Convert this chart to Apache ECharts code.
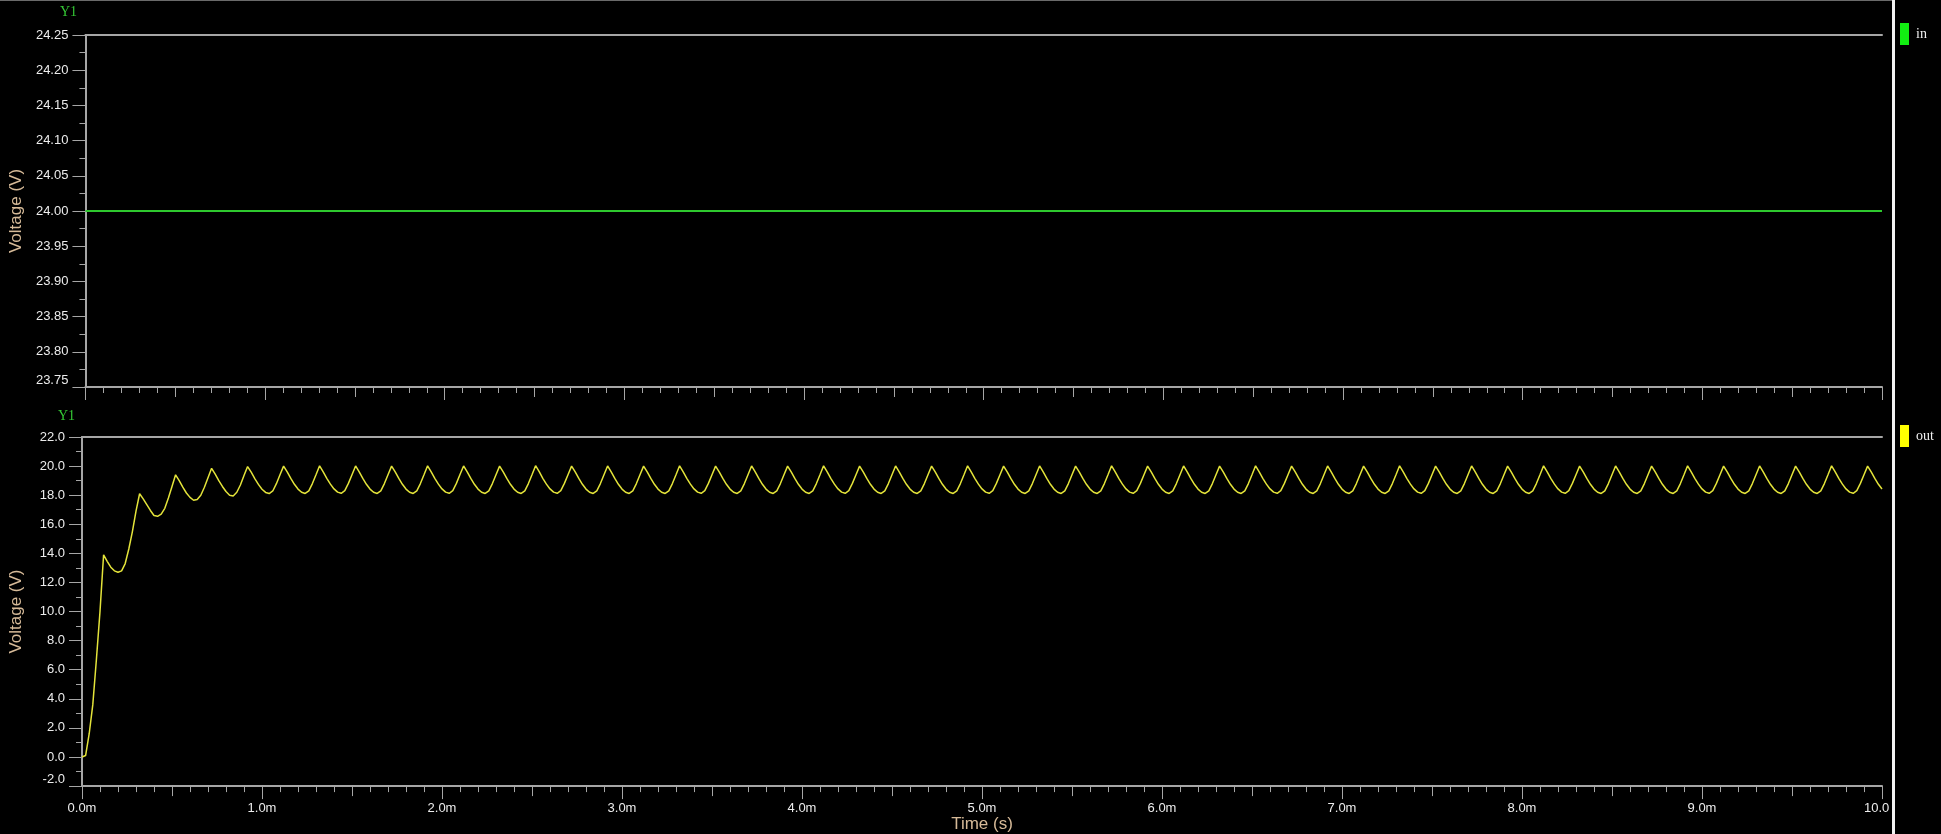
<!DOCTYPE html>
<html>
<head>
<meta charset="utf-8">
<script src="https://cdn.jsdelivr.net/npm/echarts@6/dist/echarts.min.js"></script>
<style>
html,body{margin:0;padding:0;background:#000;}
#c{width:1941px;height:834px;}
</style>
</head>
<body>
<div id="c"></div>
<script>
// ---------------- data ----------------
const timeRangeMs = [0, 10];
const timeTickMs = 1;
const inYRange = [23.75, 24.25];
const inYTick = 0.05;
const outYRange = [-2, 22];
const outYTick = 2;

// "in" trace: constant 24 V
const inTimeMs = [0, 2.5, 5, 7.5, 10];
const inVoltage = [24.0, 24.0, 24.0, 24.0, 24.0];

// "out" trace: sampled every 0.02 ms from 0.00 to 10.00 ms (501 samples)
const outStepMs = 0.02;
const outVoltage = [
  // 0.00 .. 0.90 ms : start-up transient
  0.00, 0.10, 1.60, 3.60, 6.70, 10.00,
  13.90, 13.45, 13.05, 12.80, 12.70, 12.80, 13.30, 14.30, 15.50, 16.90,
  18.10, 17.75, 17.35, 16.95, 16.60, 16.55, 16.70, 17.10, 17.80, 18.60,
  19.40, 19.00, 18.55, 18.15, 17.85, 17.65, 17.70, 18.00, 18.55, 19.20,
  19.85, 19.45, 19.00, 18.60, 18.25, 18.00, 17.95, 18.20, 18.70, 19.35,
  // ripple, one row per 0.2 ms period, rows start at peaks 0.92, 1.12, ... 9.72 ms
  19.97, 19.58, 19.14, 18.74, 18.41, 18.19, 18.11, 18.29, 18.79, 19.40, // 0.92
  20.00, 19.60, 19.15, 18.75, 18.42, 18.20, 18.12, 18.30, 18.80, 19.40, // 1.12
  20.02, 19.61, 19.16, 18.76, 18.43, 18.21, 18.13, 18.31, 18.81, 19.41, // 1.32
  20.01, 19.60, 19.15, 18.75, 18.42, 18.20, 18.12, 18.30, 18.80, 19.40, // 1.52
  20.00, 19.60, 19.15, 18.75, 18.42, 18.20, 18.12, 18.30, 18.80, 19.40, // 1.72
  20.02, 19.61, 19.16, 18.76, 18.43, 18.21, 18.13, 18.31, 18.81, 19.42, // 1.92
  20.01, 19.60, 19.15, 18.75, 18.42, 18.20, 18.12, 18.30, 18.80, 19.40, // 2.12
  20.00, 19.60, 19.15, 18.75, 18.42, 18.20, 18.12, 18.30, 18.80, 19.40, // 2.32
  20.03, 19.62, 19.16, 18.76, 18.43, 18.21, 18.13, 18.31, 18.81, 19.41, // 2.52
  20.00, 19.60, 19.15, 18.75, 18.42, 18.20, 18.12, 18.30, 18.80, 19.40, // 2.72
  20.01, 19.60, 19.15, 18.75, 18.42, 18.20, 18.12, 18.30, 18.80, 19.40, // 2.92
  20.00, 19.60, 19.15, 18.75, 18.42, 18.20, 18.12, 18.30, 18.80, 19.40, // 3.12
  20.02, 19.61, 19.16, 18.76, 18.43, 18.21, 18.13, 18.31, 18.81, 19.41, // 3.32
  20.00, 19.60, 19.15, 18.75, 18.42, 18.20, 18.12, 18.30, 18.80, 19.40, // 3.52
  20.01, 19.60, 19.15, 18.75, 18.42, 18.20, 18.12, 18.30, 18.80, 19.40, // 3.72
  20.00, 19.60, 19.15, 18.75, 18.42, 18.20, 18.12, 18.30, 18.80, 19.40, // 3.92
  20.02, 19.61, 19.16, 18.76, 18.43, 18.21, 18.13, 18.31, 18.81, 19.41, // 4.12
  20.00, 19.60, 19.15, 18.75, 18.42, 18.20, 18.12, 18.30, 18.80, 19.40, // 4.32
  20.01, 19.60, 19.15, 18.75, 18.42, 18.20, 18.12, 18.30, 18.80, 19.40, // 4.52
  20.00, 19.60, 19.15, 18.75, 18.42, 18.20, 18.12, 18.30, 18.80, 19.40, // 4.72
  20.02, 19.61, 19.16, 18.76, 18.43, 18.21, 18.13, 18.31, 18.81, 19.41, // 4.92
  20.00, 19.60, 19.15, 18.75, 18.42, 18.20, 18.12, 18.30, 18.80, 19.40, // 5.12
  20.01, 19.60, 19.15, 18.75, 18.42, 18.20, 18.12, 18.30, 18.80, 19.40, // 5.32
  20.00, 19.60, 19.15, 18.75, 18.42, 18.20, 18.12, 18.30, 18.80, 19.40, // 5.52
  20.02, 19.61, 19.16, 18.76, 18.43, 18.21, 18.13, 18.31, 18.81, 19.41, // 5.72
  20.00, 19.60, 19.15, 18.75, 18.42, 18.20, 18.12, 18.30, 18.80, 19.40, // 5.92
  20.01, 19.60, 19.15, 18.75, 18.42, 18.20, 18.12, 18.30, 18.80, 19.40, // 6.12
  20.00, 19.60, 19.15, 18.75, 18.42, 18.20, 18.12, 18.30, 18.80, 19.40, // 6.32
  20.02, 19.61, 19.16, 18.76, 18.43, 18.21, 18.13, 18.31, 18.81, 19.41, // 6.52
  20.00, 19.60, 19.15, 18.75, 18.42, 18.20, 18.12, 18.30, 18.80, 19.40, // 6.72
  20.01, 19.60, 19.15, 18.75, 18.42, 18.20, 18.12, 18.30, 18.80, 19.40, // 6.92
  20.00, 19.60, 19.15, 18.75, 18.42, 18.20, 18.12, 18.30, 18.80, 19.40, // 7.12
  20.02, 19.61, 19.16, 18.76, 18.43, 18.21, 18.13, 18.31, 18.81, 19.41, // 7.32
  20.00, 19.60, 19.15, 18.75, 18.42, 18.20, 18.12, 18.30, 18.80, 19.40, // 7.52
  20.01, 19.60, 19.15, 18.75, 18.42, 18.20, 18.12, 18.30, 18.80, 19.40, // 7.72
  20.00, 19.60, 19.15, 18.75, 18.42, 18.20, 18.12, 18.30, 18.80, 19.40, // 7.92
  20.02, 19.61, 19.16, 18.76, 18.43, 18.21, 18.13, 18.31, 18.81, 19.41, // 8.12
  20.00, 19.60, 19.15, 18.75, 18.42, 18.20, 18.12, 18.30, 18.80, 19.40, // 8.32
  20.01, 19.60, 19.15, 18.75, 18.42, 18.20, 18.12, 18.30, 18.80, 19.40, // 8.52
  20.00, 19.60, 19.15, 18.75, 18.42, 18.20, 18.12, 18.30, 18.80, 19.40, // 8.72
  20.02, 19.61, 19.16, 18.76, 18.43, 18.21, 18.13, 18.31, 18.81, 19.41, // 8.92
  20.00, 19.60, 19.15, 18.75, 18.42, 18.20, 18.12, 18.30, 18.80, 19.40, // 9.12
  20.01, 19.60, 19.15, 18.75, 18.42, 18.20, 18.12, 18.30, 18.80, 19.40, // 9.32
  20.00, 19.60, 19.15, 18.75, 18.42, 18.20, 18.12, 18.30, 18.80, 19.40, // 9.52
  20.02, 19.61, 19.16, 18.76, 18.43, 18.21, 18.13, 18.31, 18.81, 19.41, // 9.72
  // 9.92 .. 10.00 ms
  20.00, 19.60, 19.15, 18.75, 18.42
];

// ---------------- style ----------------
const AXIS = '#a6a6a6';
const LABEL = '#ececec';
const NAME = '#d6ba98';
const SANS = '"Liberation Sans", Arial, sans-serif';
const SERIF = '"Liberation Serif", "Times New Roman", serif';

function xMain(grid, withLabels) {
  return {
    type: 'value', gridIndex: grid, position: 'bottom',
    min: timeRangeMs[0], max: timeRangeMs[1], interval: timeTickMs,
    axisLine: {show: true, onZero: false, lineStyle: {color: AXIS, width: 2}},
    axisTick: {show: true, length: 13, lineStyle: {color: AXIS, width: 1}},
    minorTick: {show: true, splitNumber: 10, length: 6, lineStyle: {color: AXIS, width: 1}},
    splitLine: {show: false}, minorSplitLine: {show: false},
    axisLabel: {show: withLabels, color: LABEL, fontSize: 13, fontFamily: SANS, margin: 16,
      formatter: v => v.toFixed(1) + 'm'},
    name: withLabels ? 'Time (s)' : '', nameLocation: 'middle', nameGap: 29,
    nameTextStyle: {color: NAME, fontSize: 17, fontFamily: SANS}
  };
}
function xHalf(grid) {
  return {
    type: 'value', gridIndex: grid, position: 'bottom',
    min: timeRangeMs[0], max: timeRangeMs[1], interval: timeTickMs / 2,
    axisLine: {show: false, onZero: false},
    axisTick: {show: true, length: 10, lineStyle: {color: AXIS, width: 1}},
    axisLabel: {show: false}, splitLine: {show: false}
  };
}
function xTop(grid) {
  return {
    type: 'value', gridIndex: grid, position: 'top',
    min: timeRangeMs[0], max: timeRangeMs[1],
    axisLine: {show: true, onZero: false, lineStyle: {color: AXIS, width: 2}},
    axisTick: {show: false}, axisLabel: {show: false}, splitLine: {show: false}
  };
}
function yAx(grid, range, interval, decimals) {
  return {
    type: 'value', gridIndex: grid, position: 'left',
    min: range[0], max: range[1], interval: interval,
    axisLine: {show: true, onZero: false, lineStyle: {color: AXIS, width: 2}},
    axisTick: {show: true, length: 13, lineStyle: {color: AXIS, width: 1}},
    minorTick: {show: true, splitNumber: 2, length: 6, lineStyle: {color: AXIS, width: 1}},
    splitLine: {show: false}, minorSplitLine: {show: false},
    axisLabel: {color: LABEL, fontSize: 13, fontFamily: SANS, margin: 17,
      formatter: v => v.toFixed(decimals), verticalAlignMinLabel: 'bottom'},
    name: 'Voltage (V)', nameLocation: 'middle', nameRotate: 90, nameGap: 57,
    nameTextStyle: {color: NAME, fontSize: 17, fontFamily: SANS}
  };
}

const chart = echarts.init(document.getElementById('c'), null, {renderer: 'canvas'});
chart.setOption({
  backgroundColor: '#000000',
  animation: false,
  title: [
    {text: 'Y1', left: 60, top: 5, padding: 0,
      textStyle: {color: '#34c834', fontFamily: SERIF, fontSize: 14, fontWeight: 'normal'}},
    {text: 'Y1', left: 58, top: 409, padding: 0,
      textStyle: {color: '#34c834', fontFamily: SERIF, fontSize: 14, fontWeight: 'normal'}}
  ],
  legend: [
    {data: [{name: 'in', itemStyle: {color: '#12ee12'}}], left: 1900, top: 23, padding: 0,
      orient: 'vertical', icon: 'rect', itemWidth: 9, itemHeight: 22, selectedMode: false,
      textStyle: {color: '#f0f0f0', fontFamily: SERIF, fontSize: 14, padding: [0, 0, 0, 2]}},
    {data: [{name: 'out', itemStyle: {color: '#ffff00'}}], left: 1900, top: 425, padding: 0,
      orient: 'vertical', icon: 'rect', itemWidth: 9, itemHeight: 22, selectedMode: false,
      textStyle: {color: '#f0f0f0', fontFamily: SERIF, fontSize: 14, padding: [0, 0, 0, 2]}}
  ],
  grid: [
    {left: 82, right: 59, top: 35, height: 352},
    {left: 82, right: 59, top: 437, height: 351}
  ],
  xAxis: [xMain(0, false), xHalf(0), xTop(0), xMain(1, true), xHalf(1), xTop(1)],
  yAxis: [yAx(0, inYRange, inYTick, 2), yAx(1, outYRange, outYTick, 1)],
  series: [
    {name: 'in', type: 'line', xAxisIndex: 0, yAxisIndex: 0, showSymbol: false, silent: true,
      data: inTimeMs.map((t, i) => [t, inVoltage[i]]),
      lineStyle: {color: '#2ec82e', width: 2}, itemStyle: {color: '#2ec82e'}},
    {name: 'out', type: 'line', xAxisIndex: 3, yAxisIndex: 1, showSymbol: false, silent: true,
      data: outVoltage.map((v, i) => [Math.round(i * outStepMs * 100) / 100, v]),
      lineStyle: {color: '#e4e43a', width: 1.5}, itemStyle: {color: '#e4e43a'}}
  ],
  graphic: [
    {type: 'rect', z: 100, shape: {x: 0, y: 0, width: 1892, height: 1}, style: {fill: '#6a6a6a'}},
    {type: 'rect', z: 100, shape: {x: 1889, y: 795, width: 52, height: 39}, style: {fill: '#000000'}},
    {type: 'rect', z: 101, shape: {x: 1892, y: 0, width: 3, height: 834}, style: {fill: '#f2f2f2'}}
  ]
});
</script>
</body>
</html>
